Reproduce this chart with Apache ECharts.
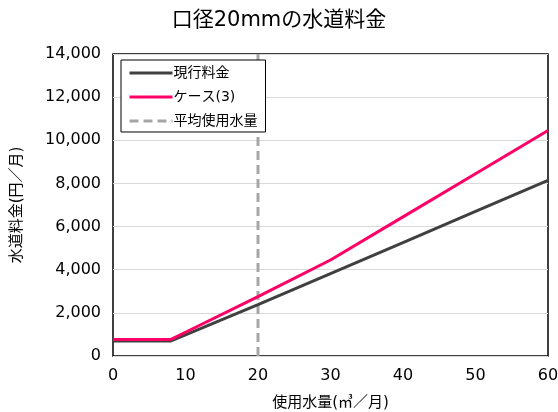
<!DOCTYPE html>
<html>
<head>
<meta charset="utf-8">
<script src="https://cdn.jsdelivr.net/npm/echarts@6/dist/echarts.min.js"></script>
<style>
  html, body { margin: 0; padding: 0; background: #fff; }
  #chart { width: 558px; height: 412px; }
</style>
</head>
<body>
<div id="chart"></div>
<script>
// Monthly water usage (m³) at which each tariff is sampled
const usage = [0, 8, 10, 20, 30, 40, 50, 60];
// Monthly charge, current tariff (yen)
const currentFee = [700, 700, 980, 2380, 3820, 5260, 6700, 8140];
// Monthly charge, revised tariff case (3) (yen)
const case3Fee = [770, 770, 1100, 2750, 4450, 6450, 8450, 10450];
// Average usage marker
const averageUsage = 20;
const yRange = [0, 14000];

const seriesNames = ['現行料金', 'ケース(3)', '平均使用水量'];

const pair = (xs, ys) => xs.map((x, i) => [x, ys[i]]);

const FONT = '"DejaVu Sans", "Noto Sans CJK JP", sans-serif';

const chart = echarts.init(document.getElementById('chart'), null, { renderer: 'canvas' });

chart.setOption({
  animation: false,
  backgroundColor: '#ffffff',
  title: {
    text: '口径20mmの水道料金',
    left: 'center',
    top: 5,
    textStyle: { fontFamily: FONT, fontSize: 21, fontWeight: 'normal', color: '#000' }
  },
  legend: {
    orient: 'vertical',
    left: 121,
    top: 60,
    padding: [6, 8, 4, 7],
    itemGap: 10,
    itemWidth: 43,
    itemHeight: 14,
    borderColor: '#000',
    borderWidth: 1,
    backgroundColor: '#fff',
    data: seriesNames,
    itemStyle: { opacity: 0 },
    lineStyle: { width: 3 },
    textStyle: { fontFamily: FONT, fontSize: 14, color: '#000', padding: [0, 0, 0, -4] }
  },
  grid: {
    left: 113,
    right: 10,
    top: 54,
    bottom: 56,
    outerBoundsMode: 'none',
    containLabel: false,
    show: true,
    borderColor: '#000',
    borderWidth: 1.5,
    backgroundColor: 'transparent'
  },
  xAxis: {
    type: 'value',
    min: 0,
    max: 60,
    interval: 10,
    name: '使用水量(㎥／月)',
    nameLocation: 'middle',
    nameGap: 40,
    nameTextStyle: { fontFamily: FONT, fontSize: 15, color: '#000' },
    axisLine: { show: false },
    axisTick: { show: false },
    splitLine: { show: false },
    axisLabel: { fontFamily: FONT, fontSize: 16, color: '#000', margin: 12 }
  },
  yAxis: {
    type: 'value',
    min: yRange[0],
    max: yRange[1],
    interval: 2000,
    name: '水道料金(円／月)',
    nameLocation: 'middle',
    nameGap: 88,
    nameTextStyle: { fontFamily: FONT, fontSize: 15, color: '#000' },
    axisLine: { show: false },
    axisTick: { show: false },
    splitLine: { show: true, lineStyle: { color: '#d9d9d9', width: 1 } },
    axisLabel: {
      fontFamily: FONT, fontSize: 16, color: '#000', margin: 12,
      formatter: v => v.toLocaleString('en-US')
    }
  },
  series: [
    {
      name: seriesNames[0],
      type: 'line',
      data: pair(usage, currentFee),
      symbol: 'none',
      z: 3,
      lineStyle: { color: '#404040', width: 3 },
      itemStyle: { color: '#404040' }
    },
    {
      name: seriesNames[1],
      type: 'line',
      data: pair(usage, case3Fee),
      symbol: 'none',
      z: 4,
      lineStyle: { color: '#ff0066', width: 3 },
      itemStyle: { color: '#ff0066' }
    },
    {
      name: seriesNames[2],
      type: 'line',
      data: [[averageUsage, yRange[0]], [averageUsage, yRange[1]]],
      symbol: 'none',
      z: 2,
      lineStyle: { color: '#a6a6a6', width: 3, type: [9, 5] },
      itemStyle: { color: '#a6a6a6' }
    }
  ]
});
</script>
</body>
</html>
